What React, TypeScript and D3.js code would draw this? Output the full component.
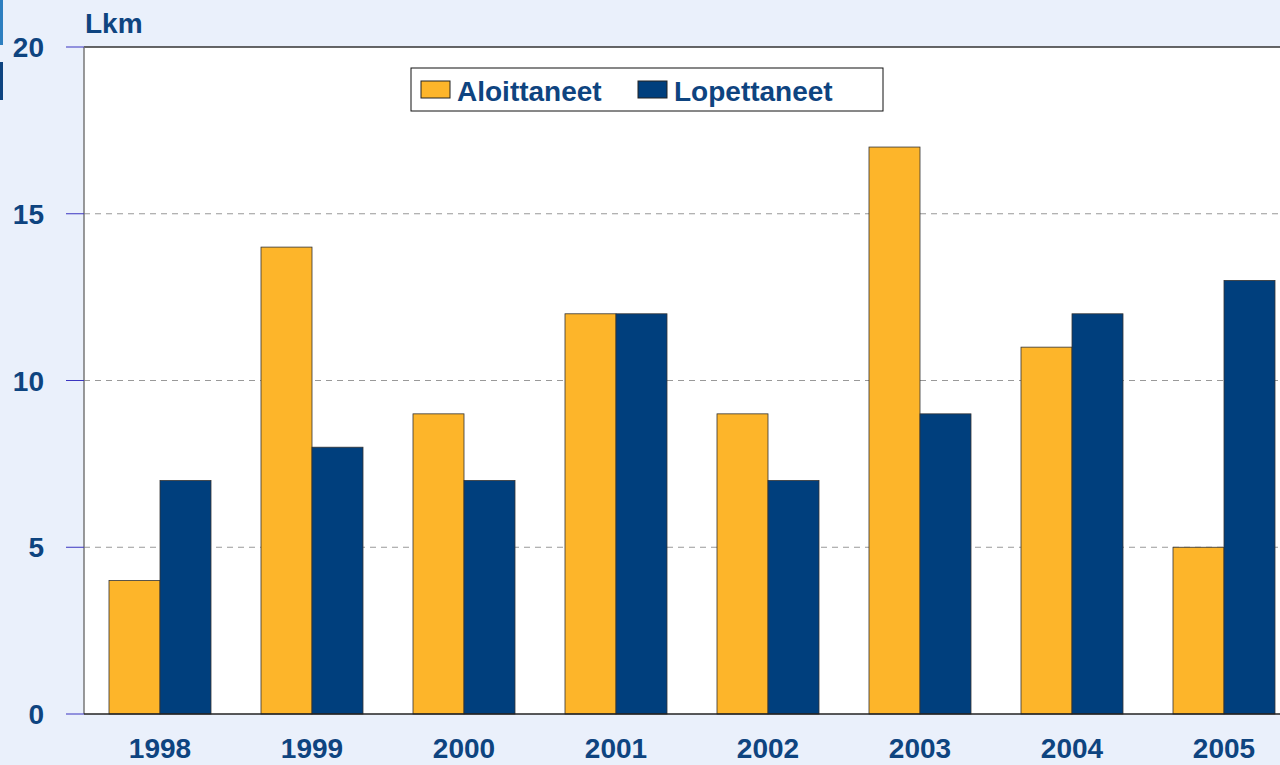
import React from 'react'
import * as d3 from 'd3'

const years = ['1998', '1999', '2000', '2001', '2002', '2003', '2004', '2005']
const aloittaneet = [4, 14, 9, 12, 9, 17, 11, 5]
const lopettaneet = [7, 8, 7, 12, 7, 9, 12, 13]
const yTicks = [0, 5, 10, 15, 20]
const seriesNames = ['Aloittaneet', 'Lopettaneet']

const W = 1280
const H = 765
const left = 84
const top = 47
const bottom = 714
const bandW = 152
const textColor = '#0E4480'
const colors = ['#FDB52A', '#003F7D']
const font = '"Liberation Sans", Arial, sans-serif'

export default function App() {
  // band scale runs past the right edge, as in the original (clipped)
  const x = d3.scaleBand<string>()
    .domain(years)
    .range([left, left + bandW * years.length])
    .paddingInner(50 / 152)
    .paddingOuter(25 / 152)
  const x1 = d3.scaleBand<string>().domain(seriesNames).range([0, x.bandwidth()])
  const y = d3.scaleLinear().domain([0, 20]).range([bottom, top])

  const series = [aloittaneet, lopettaneet]

  return (
    <svg width={W} height={H} style={{ position: 'fixed', left: 0, top: 0, fontFamily: font }}>
      <rect width={W} height={H} fill="#EAF0FB" />
      {/* little decorative strips at the left edge */}
      <rect x={0} y={0} width={3} height={45} fill="#2E7FC0" />
      <rect x={0} y={62} width={3} height={38} fill="#0E4480" />

      <rect x={left} y={top} width={W - left} height={bottom - top} fill="#fff" />

      {yTicks.filter(t => t > 0 && t < 20).map(t => (
        <line key={t} x1={left} x2={W} y1={y(t)} y2={y(t)}
          stroke="#999" strokeDasharray="6,5" strokeWidth={1} />
      ))}
      <line x1={left} x2={W} y1={y(20)} y2={y(20)} stroke="#333" strokeWidth={1.5} />

      {years.map((yr, i) => (
        <g key={yr}>
          {series.map((s, j) => (
            <rect key={j}
              x={x(yr)! + x1(seriesNames[j])!}
              y={y(s[i])}
              width={x1.bandwidth()}
              height={y(0) - y(s[i])}
              fill={colors[j]}
              stroke="#333"
              strokeWidth={0.8} />
          ))}
          <text x={x(yr)! + x.bandwidth() / 2} y={758} textAnchor="middle"
            fontSize={28} fontWeight="bold" fill={textColor}>{yr}</text>
        </g>
      ))}

      <line x1={left} x2={left} y1={top} y2={bottom} stroke="#777" strokeWidth={1.5} />
      <line x1={left} x2={W} y1={bottom} y2={bottom} stroke="#222" strokeWidth={1.5} />

      {yTicks.map(t => (
        <g key={t}>
          <line x1={66} x2={left} y1={y(t)} y2={y(t)} stroke="#3B35C0" strokeWidth={1} />
          <text x={44} y={y(t) + 10} textAnchor="end" fontSize={28} fontWeight="bold" fill={textColor}>{t}</text>
        </g>
      ))}

      <text x={85} y={33} fontSize={28} fontWeight="bold" fill={textColor}>Lkm</text>

      <g>
        <rect x={411} y={68} width={472} height={43} fill="#fff" stroke="#111" strokeWidth={1} />
        {seriesNames.map((n, j) => (
          <g key={n} transform={`translate(${j === 0 ? 421 : 638},81)`}>
            <rect width={29} height={17} fill={colors[j]} stroke="#222" strokeWidth={1} />
            <text x={36} y={20} fontSize={28} fontWeight="bold" fill={textColor}>{n}</text>
          </g>
        ))}
      </g>
    </svg>
  )
}
